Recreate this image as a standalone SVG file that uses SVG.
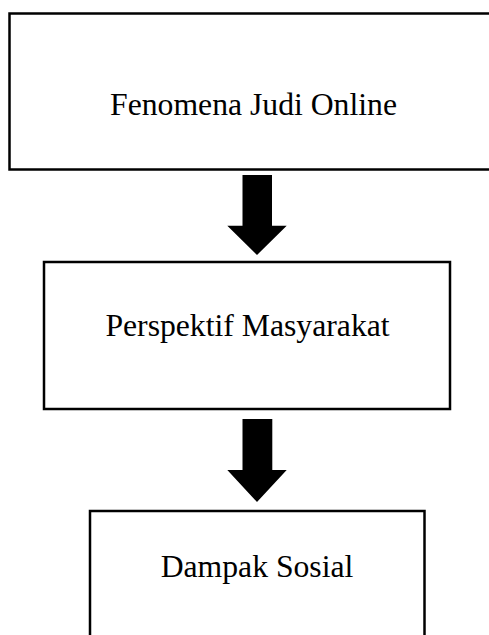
<svg xmlns="http://www.w3.org/2000/svg" width="489" height="635" viewBox="0 0 489 635">
<style>
.box{fill:#fff;stroke:#000;stroke-width:2.5}
.lbl{font-family:"Liberation Serif","Times New Roman",serif;font-size:31.7px;fill:#000;text-anchor:middle}
.arr{fill:#000;stroke:none}
</style>
<rect width="489" height="635" fill="#fff"/>
<g id="node-fenomena">
<rect class="box" x="9.5" y="13.5" width="488" height="156"/>
<text class="lbl" x="253.5" y="115">Fenomena Judi Online</text>
</g>
<g id="node-perspektif">
<rect class="box" x="44" y="262" width="406" height="147"/>
<text class="lbl" x="247.5" y="336">Perspektif Masyarakat</text>
</g>
<g id="node-dampak">
<rect class="box" x="90" y="511" width="334.5" height="140"/>
<text class="lbl" x="257" y="577">Dampak Sosial</text>
</g>
<g id="connectors">
<polygon class="arr" points="242.5,175 272,175 272,225.7 286.7,225.7 257,255 227.3,225.7 242.5,225.7"/>
<polygon class="arr" points="242.5,419 272.3,419 272.3,470 286.7,470 257,502 227.3,470 242.5,470"/>
</g>
</svg>
